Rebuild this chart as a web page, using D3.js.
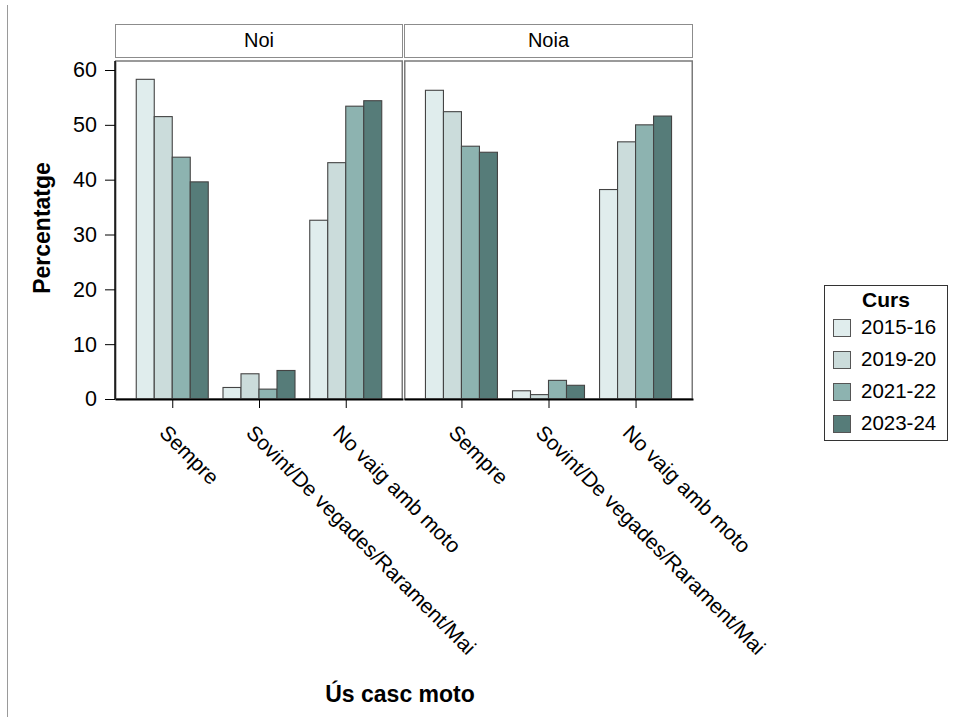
<!DOCTYPE html>
<html>
<head>
<meta charset="utf-8">
<script src="https://cdn.jsdelivr.net/npm/d3@7"></script>
<style>
  body { margin: 0; background: #fff; }
  svg { display: block; font-family: "Liberation Sans", Arial, sans-serif; }
</style>
</head>
<body>
<svg id="chart" width="954" height="720"></svg>
<script>
// ---------- data ----------
const categories = ["Sempre", "Sovint/De vegades/Rarament/Mai", "No vaig amb moto"];
const panels = ["Noi", "Noia"];
const series = ["2015-16", "2019-20", "2021-22", "2023-24"];
const colors = ["#e0eded", "#cbdcdb", "#8db3b0", "#567c79"];
const yTicks = [0, 10, 20, 30, 40, 50, 60];

// Noi
const noi_2015_16 = [58.3, 2.1, 32.6];
const noi_2019_20 = [51.5, 4.6, 43.1];
const noi_2021_22 = [44.1, 1.8, 53.4];
const noi_2023_24 = [39.6, 5.2, 54.4];
// Noia
const noia_2015_16 = [56.3, 1.5, 38.2];
const noia_2019_20 = [52.4, 0.8, 46.9];
const noia_2021_22 = [46.1, 3.4, 50.0];
const noia_2023_24 = [45.0, 2.5, 51.6];

const panelData = [
  [noi_2015_16, noi_2019_20, noi_2021_22, noi_2023_24],
  [noia_2015_16, noia_2019_20, noia_2021_22, noia_2023_24]
];

// ---------- layout ----------
const svg = d3.select("#chart");
const panelRanges = [[115, 403], [404, 693]];
const plotTop = 61, plotBottom = 399;
const stripTop = 24, stripBottom = 57;

const y = d3.scaleLinear().domain([0, 60]).range([399, 70]);
const color = d3.scaleOrdinal().domain(series).range(colors);

// left decorative line
svg.append("line").attr("x1", 7.5).attr("x2", 7.5).attr("y1", 5).attr("y2", 717)
  .attr("stroke", "#9a9a9a").attr("stroke-width", 1);

panels.forEach((p, pi) => {
  const [x0, x1] = panelRanges[pi];
  const x = d3.scalePoint().domain(categories).range([x0, x1]).padding(0.66);
  const xs = d3.scaleBand().domain(series).range([-36, 36]).padding(0);

  // strip
  svg.append("rect").attr("x", x0 + 0.5).attr("y", stripTop + 0.5)
    .attr("width", x1 - x0 - 1).attr("height", stripBottom - stripTop)
    .attr("fill", "#fff").attr("stroke", "#8c8c8c").attr("stroke-width", 1);
  svg.append("text").attr("x", (x0 + x1) / 2).attr("y", (stripTop + stripBottom) / 2 + 1)
    .attr("text-anchor", "middle").attr("dominant-baseline", "middle")
    .attr("font-size", 20).attr("fill", "#000").text(p);

  // bars
  const g = svg.append("g");
  series.forEach((s, si) => {
    g.selectAll(null).data(panelData[pi][si]).join("rect")
      .attr("x", (d, ci) => x(categories[ci]) + xs(s))
      .attr("y", d => y(d))
      .attr("width", xs.bandwidth())
      .attr("height", d => y(0) - y(d))
      .attr("fill", color(s))
      .attr("stroke", "#444")
      .attr("stroke-width", 1.1);
  });

  // panel frame
  svg.append("rect").attr("x", x0 + 0.75).attr("y", plotTop)
    .attr("width", x1 - x0 - 1.5).attr("height", plotBottom - plotTop)
    .attr("fill", "none").attr("stroke", "#7a7a7a").attr("stroke-width", 1.5);

  // x axis
  const xAxis = d3.axisBottom(x).tickSize(9).tickSizeOuter(0).tickFormat("");
  const ax = svg.append("g").attr("transform", `translate(0,${plotBottom})`).call(xAxis);
  ax.select(".domain").attr("stroke", "#000").attr("stroke-width", 2);
  ax.selectAll(".tick line").attr("stroke", "#000").attr("stroke-width", 1);
  categories.forEach(c => {
    svg.append("text")
      .attr("transform", `translate(${x(c) - 14},434) rotate(45)`)
      .attr("text-anchor", "start").attr("font-size", 21).attr("fill", "#000")
      .text(c);
  });
});

// y axis
const yAxis = d3.axisLeft(y).tickValues(yTicks).tickSize(10).tickPadding(8).tickSizeOuter(0);
const ay = svg.append("g").attr("transform", `translate(115,0)`).call(yAxis);
ay.select(".domain").attr("d", `M0,${plotTop}V${plotBottom}`).attr("stroke", "#000").attr("stroke-width", 1.5);
ay.selectAll(".tick text").attr("font-size", 21.5).attr("fill", "#000").attr("font-family", "Liberation Sans, Arial, sans-serif");
ay.selectAll(".tick line").attr("stroke", "#000");

// axis titles
svg.append("text").attr("transform", "translate(50,228) rotate(-90)")
  .attr("text-anchor", "middle").attr("font-weight", "bold").attr("font-size", 23)
  .text("Percentatge");
svg.append("text").attr("x", 400).attr("y", 702)
  .attr("text-anchor", "middle").attr("font-weight", "bold").attr("font-size", 23)
  .text("Ús casc moto");

// legend
const lg = svg.append("g");
lg.append("rect").attr("x", 824.5).attr("y", 285.5).attr("width", 123).attr("height", 155)
  .attr("fill", "#fff").attr("stroke", "#333").attr("stroke-width", 1);
lg.append("text").attr("x", 886).attr("y", 307).attr("text-anchor", "middle")
  .attr("font-weight", "bold").attr("font-size", 21).text("Curs");
series.forEach((s, i) => {
  const cy = 328 + i * 32;
  lg.append("rect").attr("x", 833.5).attr("y", cy - 8.5).attr("width", 17).attr("height", 17)
    .attr("fill", color(s)).attr("stroke", "#555").attr("stroke-width", 1);
  lg.append("text").attr("x", 861).attr("y", cy + 1).attr("dominant-baseline", "middle")
    .attr("font-size", 20.5).text(s);
});
</script>
</body>
</html>
